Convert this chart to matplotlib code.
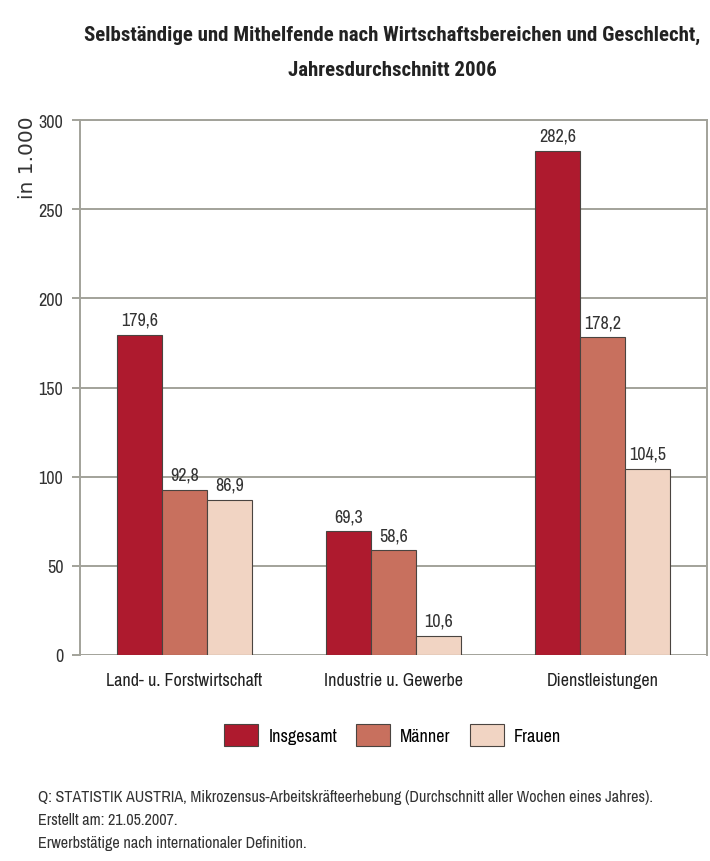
import numpy as np
import matplotlib.pyplot as plt

categories = ['Land- u. Forstwirtschaft', 'Industrie u. Gewerbe', 'Dienstleistungen']
series_names = ['Insgesamt', 'Männer', 'Frauen']
insgesamt = [179.6, 69.3, 282.6]
maenner = [92.8, 58.6, 178.2]
frauen = [86.9, 10.6, 104.5]
colors = ['#AE1A2E', '#C8705E', '#F1D4C3']

plt.rcParams['font.family'] = ['Archivo Narrow', 'DejaVu Sans']

fig = plt.figure(figsize=(7.1, 8.62), dpi=100)
ax = fig.add_axes([0.1127, 0.239, 0.883, 0.6206])

x = np.arange(len(categories))
w = 0.215
grid_c = '#A2A29A'
txt_c = '#333333'

for i, (vals, name) in enumerate(zip([insgesamt, maenner, frauen], series_names)):
    pos = x + (i - 1) * w
    ax.bar(pos, vals, w, color=colors[i], edgecolor='#4A4440', linewidth=0.8,
           label=name, zorder=3)
    for p, v in zip(pos, vals):
        ax.text(p, v + 4, f'{v:.1f}'.replace('.', ','), ha='center', va='bottom',
                fontsize=13, color=txt_c)

ax.set_xlim(-0.5, 2.5)
ax.set_ylim(0, 300)
ax.set_yticks(np.arange(0, 301, 50))
ax.yaxis.grid(True, color=grid_c, linewidth=1.4, zorder=0)
ax.set_axisbelow(True)
ax.set_xticks(x)
ax.set_xticklabels(categories, fontsize=13, color='#222222')
ax.tick_params(axis='x', length=0, pad=12)
ax.tick_params(axis='y', length=6, width=1.4, color=grid_c, labelsize=13,
               labelcolor=txt_c, pad=6)
for s in ['left', 'top', 'right']:
    ax.spines[s].set_color(grid_c)
    ax.spines[s].set_linewidth(1.4)
ax.spines['bottom'].set_visible(False)

# y-axis unit label
fig.text(0.039, 0.865, 'in 1.000', rotation=90, ha='center', va='top',
         fontsize=14.5, color=txt_c, family=['DejaVu Sans'])

# title (bold condensed face)
title_font = ['Roboto Condensed', 'Archivo Narrow', 'DejaVu Sans']
fig.text(0.553, 1 - 35 / 862, 'Selbständige und Mithelfende nach Wirtschaftsbereichen und Geschlecht,',
         ha='center', va='center', fontsize=15, fontweight='bold', color='#222222',
         family=title_font)
fig.text(0.553, 1 - 70 / 862, 'Jahresdurchschnitt 2006',
         ha='center', va='center', fontsize=15, fontweight='bold', color='#222222',
         family=title_font)

fig.legend(loc='center', bbox_to_anchor=(0.553, 1 - 736 / 862), ncol=3, frameon=False,
           fontsize=13, handlelength=1.9, handleheight=1.5, columnspacing=1.05,
           handletextpad=0.55)

notes = ['Q: STATISTIK AUSTRIA, Mikrozensus-Arbeitskräfteerhebung (Durchschnitt aller Wochen eines Jahres).',
         'Erstellt am: 21.05.2007.',
         'Erwerbstätige nach internationaler Definition.']
for k, line in enumerate(notes):
    fig.text(0.0535, 1 - (798 + 23 * k) / 862, line, ha='left', va='center',
             fontsize=11.6, color=txt_c)

fig.savefig('out.png', dpi=100, facecolor='white')
